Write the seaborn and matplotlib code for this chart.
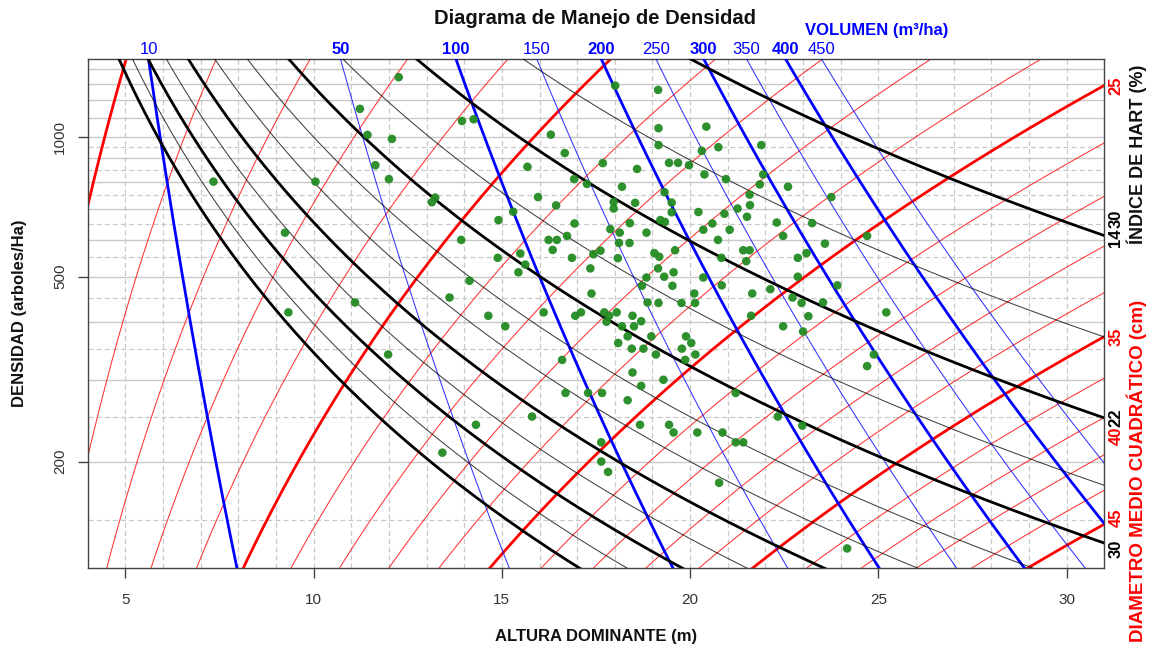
import numpy as np
import pandas as pd
import matplotlib
matplotlib.use("Agg")
import matplotlib.pyplot as plt
from matplotlib.ticker import NullLocator, FixedLocator
import seaborn as sns

sns.set_theme(style="white")
plt.rcParams['font.family'] = ['Liberation Sans', 'DejaVu Sans']

# ---------------- data ----------------
hart_values = [14, 18, 22, 26, 30, 34, 38, 42, 46, 50, 54, 58]
hart_thick = [14, 22, 30, 42, 50, 58]
hart_labels = [14, 22, 30]

dmc_values = list(range(5, 46, 2))
dmc_thick = [5, 15, 25, 35, 45]
dmc_labels = [25, 30, 35, 40, 45]
dmc_label_colors = {25: '#ff0000', 30: '#000000', 35: '#ff0000', 40: '#ff0000', 45: '#ff0000'}

vol_values = [10, 50, 100, 150, 200, 250, 300, 350, 400, 450]
vol_thick = [10, 100, 200, 300, 400]
vol_bold_labels = [50, 100, 200, 300, 400]

x_ticks = [5, 10, 15, 20, 25, 30]
y_ticks = [200, 500, 1000]

altura = [12.26, 11.23, 11.43, 12.08, 11.64, 7.34, 10.05, 12.00, 13.14, 13.23,
          9.24, 11.10, 9.33, 11.98, 18.01, 19.15, 13.94, 14.25, 19.16, 20.43,
          16.30, 16.67, 19.16, 20.31, 20.75, 21.89, 17.68, 15.68, 18.59, 19.44,
          19.68, 19.97, 20.38, 20.95, 21.94, 21.85, 16.92, 17.26, 18.19, 21.58,
          21.59, 21.26, 15.96, 16.44, 17.97, 17.97, 18.54, 19.32, 19.51, 15.30,
          14.91, 16.93, 17.88, 18.13, 18.40, 18.84, 19.21, 19.33, 19.51, 20.22,
          20.91, 21.51, 20.59, 20.35, 21.05, 13.92, 16.24, 16.46, 16.73, 18.11,
          18.39, 16.35, 17.62, 17.43, 18.08, 19.05, 19.18, 19.60, 20.74, 21.41,
          21.58, 20.83, 21.49, 14.89, 15.49, 15.62, 15.44, 16.86, 17.35, 19.15,
          19.31, 19.56, 18.84, 18.72, 19.53, 20.35, 20.84, 14.14, 13.61, 17.38,
          18.87, 19.16, 19.77, 20.11, 20.13, 21.65, 22.13, 14.64, 15.09, 16.11,
          16.95, 17.10, 17.72, 17.85, 18.05, 17.78, 18.19, 18.47, 18.70, 18.51,
          18.34, 18.97, 18.09, 18.45, 18.76, 19.09, 19.89, 20.03, 19.78, 20.14,
          19.87, 21.62, 16.60, 18.47, 19.29, 18.70, 16.69, 17.29, 17.66, 18.34,
          21.21, 15.80, 14.31, 18.67, 19.44, 19.56, 20.19, 20.86, 21.21, 21.41,
          13.42, 17.64, 17.64, 17.82, 20.77, 22.60, 23.75, 22.30, 23.24, 22.47,
          23.58, 24.70, 23.09, 22.86, 22.86, 23.91, 22.72, 22.96, 23.53, 23.14,
          22.47, 23.00, 25.21, 24.88, 24.70, 22.33, 22.98, 24.17]
densidad = [1344, 1149, 1010, 990, 869, 801, 801, 811, 723, 740,
            622, 440, 419, 340, 1289, 1262, 1082, 1091, 1044, 1052,
            1011, 923, 960, 933, 950, 960, 878, 862, 853, 879,
            879, 869, 830, 811, 830, 790, 811, 792, 781, 751,
            713, 701, 742, 712, 724, 701, 721, 760, 722, 690,
            662, 651, 633, 622, 652, 622, 662, 656, 688, 689,
            683, 673, 651, 631, 631, 600, 600, 600, 612, 591,
            591, 571, 569, 559, 548, 562, 552, 570, 600, 570,
            570, 549, 540, 549, 561, 531, 511, 549, 521, 521,
            500, 511, 498, 478, 478, 498, 479, 490, 451, 460,
            440, 439, 439, 460, 439, 460, 470, 412, 391, 419,
            412, 419, 419, 412, 419, 400, 391, 412, 401, 391,
            372, 372, 360, 350, 350, 340, 372, 360, 350, 340,
            331, 412, 331, 311, 300, 291, 281, 281, 281, 271,
            281, 250, 240, 240, 240, 231, 231, 231, 220, 220,
            209, 220, 200, 190, 180, 781, 742, 654, 652, 612,
            589, 612, 562, 549, 500, 479, 451, 439, 440, 411,
            391, 381, 419, 340, 321, 250, 239, 130]

# ---------------- model coefficients ----------------
HART_K = 10746.0
DMC_A, DMC_B, DMC_C = 3.5107, 3.2, 3.7
VOL_A, VOL_B, VOL_C, VOL_S = 0.8818, 0.35, 2.5, 7.22

XMIN, XMAX = 4.0, 31.0
YMIN, YMAX = 118.0, 1471.0


def n_hart(ih, h):
    return (HART_K / (ih * h)) ** 2


def n_dmc(d, h):
    return 10 ** (DMC_A + DMC_B * np.log10(h) - DMC_C * np.log10(d))


def n_vol(v, h):
    return 10 ** (VOL_S * (VOL_A + VOL_B * np.log10(v - VOL_C) - np.log10(h)))


def h_vol_top(v, n):
    return 10 ** (VOL_A + VOL_B * np.log10(v - VOL_C) - np.log10(n) / VOL_S)


# ---------------- figure ----------------
fig = plt.figure(figsize=(11.5, 6.5), dpi=100)
ax = fig.add_axes([87.7 / 1150, 1 - 568 / 650, (1104.3 - 87.7) / 1150, (568 - 59) / 650])
ax.set_yscale('log')

grid_col = '#c9c9c9'
for xv in range(4, 32):
    ax.axvline(xv, color=grid_col, lw=0.9, ls=(0, (4, 2.5)), zorder=0)
for yv in range(100, 1500, 100):
    ax.axhline(yv, color=grid_col, lw=1.0, zorder=0)
for yv in range(150, 1000, 100):
    ax.axhline(yv, color=grid_col, lw=0.9, ls=(0, (4, 2.5)), zorder=0)

h = np.linspace(XMIN, XMAX, 500)

# red DMC lines
for d in dmc_values:
    thick = d in dmc_thick
    sns.lineplot(x=h, y=n_dmc(d, h), ax=ax, color='#ff0000',
                 lw=2.0 if thick else 0.75, alpha=1.0 if thick else 0.8,
                 zorder=2, estimator=None, sort=False)

# blue volume lines
for v in vol_values:
    thick = v in vol_thick
    sns.lineplot(x=h, y=n_vol(v, h), ax=ax, color='#0000ff',
                 lw=2.0 if thick else 0.75, alpha=1.0 if thick else 0.8,
                 zorder=3, estimator=None, sort=False)

# black Hart lines
for ih in hart_values:
    thick = ih in hart_thick
    sns.lineplot(x=h, y=n_hart(ih, h), ax=ax, color='#000000',
                 lw=2.0 if thick else 0.75, alpha=1.0 if thick else 0.75,
                 zorder=4, estimator=None, sort=False)

# observations
obs = pd.DataFrame({'altura': altura, 'densidad': densidad})
sns.scatterplot(data=obs, x='altura', y='densidad', ax=ax, color='#228b22',
                s=38, edgecolor='none', alpha=0.95, zorder=6, legend=False)

ax.set_xlim(XMIN, XMAX)
ax.set_ylim(YMIN, YMAX)
ax.yaxis.set_major_locator(FixedLocator(y_ticks))
ax.yaxis.set_minor_locator(NullLocator())
ax.set_yticklabels([str(t) for t in y_ticks], rotation=90, va='center')
ax.set_xticks(x_ticks)
ax.set_xticklabels([str(t) for t in x_ticks])
ax.tick_params(axis='both', which='major', direction='out', length=7, width=1,
               color='#444444', labelcolor='#333333', labelsize=11,
               left=True, bottom=True)
ax.tick_params(axis='x', pad=11)
ax.tick_params(axis='y', pad=8)
ax.set_xlabel('')
ax.set_ylabel('')
for sp in ax.spines.values():
    sp.set_color('#444444')
    sp.set_linewidth(1.0)

# top volume labels
for v in vol_values:
    hv = h_vol_top(v, YMAX)
    ax.annotate(str(v), xy=(hv, YMAX), xytext=(0, 1.5), textcoords='offset points',
                ha='center', va='bottom', color='#0000ff', fontsize=12,
                fontweight='bold' if v in vol_bold_labels else 'normal',
                annotation_clip=False)

# right labels (small vertical nudges, in pixels, keep adjacent labels apart)
nudge_dmc = {30: 3, 45: 6}
nudge_hart = {14: -2, 30: -6}
for d in dmc_labels:
    ax.annotate(str(d), xy=(XMAX, n_dmc(d, XMAX)),
                xytext=(3, nudge_dmc.get(d, 0) * 0.72), textcoords='offset points',
                ha='left', va='center', rotation=90,
                color=dmc_label_colors[d], fontsize=12, fontweight='bold',
                annotation_clip=False)
for ih in hart_labels:
    ax.annotate(str(ih), xy=(XMAX, n_hart(ih, XMAX)),
                xytext=(3, nudge_hart.get(ih, 0) * 0.72), textcoords='offset points',
                ha='left', va='center', rotation=90,
                color='#000000', fontsize=12, fontweight='bold', annotation_clip=False)

# titles
fig.text(595.5 / 1150, 1 - 18 / 650, 'Diagrama de Manejo de Densidad', ha='center',
         va='center', fontsize=14.5, fontweight='bold', color='#111111')
fig.text(877 / 1150, 1 - 30 / 650, 'VOLUMEN (m³/ha)', ha='center', va='center',
         fontsize=12, fontweight='bold', color='#0000ff')
fig.text(596 / 1150, 1 - 637 / 650, 'ALTURA DOMINANTE (m)', ha='center', va='center',
         fontsize=12, fontweight='bold', color='#111111')
fig.text(20 / 1150, 1 - 313 / 650, 'DENSIDAD (arboles/Ha)', ha='center', va='center',
         rotation=90, fontsize=12, fontweight='bold', color='#111111')
fig.text(1137 / 1150, 1 - 154 / 650, 'ÍNDICE DE HART (%)', ha='center', va='center',
         rotation=90, fontsize=13, fontweight='bold', color='#111111')
fig.text(1137 / 1150, 1 - 471 / 650, 'DIAMETRO MEDIO CUADRÁTICO (cm)', ha='center',
         va='center', rotation=90, fontsize=13.5, fontweight='bold', color='#ff0000')

fig.savefig('out.png', dpi=100, facecolor='white')
